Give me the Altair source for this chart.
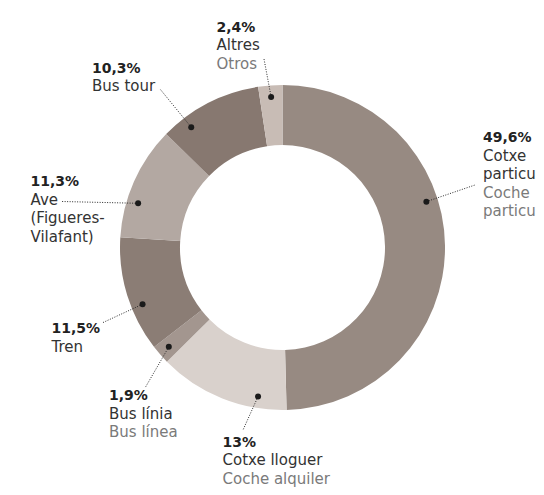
import math
import altair as alt
import pandas as pd

# ---- data ----
categories = ["Cotxe particular", "Cotxe lloguer", "Bus línia", "Tren",
              "Ave (Figueres-Vilafant)", "Bus tour", "Altres"]
shares = [49.6, 13.0, 1.9, 11.5, 11.3, 10.3, 2.4]
pct_labels = ["49,6%", "13%", "1,9%", "11,5%", "11,3%", "10,3%", "2,4%"]
ca_lines = [["Cotxe", "particular"], ["Cotxe lloguer"], ["Bus línia"], ["Tren"],
            ["Ave", "(Figueres-", "Vilafant)"], ["Bus tour"], ["Altres"]]
es_lines = [["Coche", "particular"], ["Coche alquiler"], ["Bus línea"], [], [], [], ["Otros"]]

# ---- style / layout ----
colors = ["#978a82", "#d9d1cc", "#a3968f", "#8b7d75", "#b3a8a2", "#877870", "#c8bcb5"]
W, H = 528, 479
CX, CY = 274.5, 239.5
R_OUT, R_IN, R_DOT = 162.5, 102.5, 151
LINE_H = 18.5
FONT = "DejaVu Sans"
FS = 15
FS_BOLD = 14
# position of dot inside each slice (fraction of slice angle)
dot_frac = [0.405, 0.23, 0.51, 0.38, 0.33, 0.23, 0.5]
# label anchor (page px): left x, first baseline y
label_anchor = [(483, 142), (222.5, 446.5), (109, 400), (51.5, 333),
                (30.5, 186), (92, 72.5), (216.5, 31.5)]
# leader end near the label (page px)
leader_end = [(475, 185), (243, 430), (145, 388), (102, 323),
              (62, 201.5), (160, 89), (264, 59)]

df = pd.DataFrame({"cat": categories, "share": shares, "idx": range(len(shares))})

# dots and leaders
start = 0.0
dots = []
total = sum(shares)
for i, s in enumerate(shares):
    a = 2 * math.pi * (start + dot_frac[i] * s) / total
    start += s
    px = CX + R_DOT * math.sin(a)
    py = CY - R_DOT * math.cos(a)
    ex, ey = leader_end[i]
    dots.append({"px": px, "py": py, "ex": ex - 8, "ey": ey - 8})
ddf = pd.DataFrame(dots)

rows = []
for i in range(len(shares)):
    ax, ay = label_anchor[i]
    ax -= 8
    ay -= 8
    k = 0
    rows.append({"x": ax, "y": ay, "t": pct_labels[i], "kind": "pct"})
    k += 1
    for l in ca_lines[i]:
        rows.append({"x": ax, "y": ay + k * LINE_H, "t": l, "kind": "ca"})
        k += 1
    for l in es_lines[i]:
        rows.append({"x": ax, "y": ay + k * LINE_H, "t": l, "kind": "es"})
        k += 1
tdf = pd.DataFrame(rows)

arc = alt.Chart(df).mark_arc(innerRadius=R_IN, outerRadius=R_OUT).encode(
    theta=alt.Theta("share:Q", stack=True),
    order=alt.Order("idx:Q"),
    color=alt.Color("cat:N", scale=alt.Scale(domain=categories, range=colors), legend=None),
    x=alt.value(CX),
    y=alt.value(CY),
)

leaders = alt.Chart(ddf).mark_rule(color="#2a2a2a", strokeWidth=1, strokeDash=[1, 1.5]).encode(
    x=alt.X("px:Q", scale=None, axis=None),
    y=alt.Y("py:Q", scale=None, axis=None),
    x2="ex:Q",
    y2="ey:Q",
)

pts = alt.Chart(ddf).mark_circle(color="#1a1a1a", opacity=1, size=36).encode(
    x=alt.X("px:Q", scale=None, axis=None),
    y=alt.Y("py:Q", scale=None, axis=None),
)

def text_layer(kind, color, weight, size):
    return alt.Chart(tdf).transform_filter(alt.datum.kind == kind).mark_text(
        align="left", baseline="alphabetic", font=FONT, fontSize=size,
        fontWeight=weight, color=color
    ).encode(
        x=alt.X("x:Q", scale=None, axis=None),
        y=alt.Y("y:Q", scale=None, axis=None),
        text="t:N",
    )

chart = alt.layer(
    arc, leaders, pts,
    text_layer("pct", "#222222", "bold", FS_BOLD),
    text_layer("ca", "#333333", "normal", FS),
    text_layer("es", "#7a7a7a", "normal", FS),
).properties(
    width=W, height=H, autosize=alt.AutoSizeParams(type="none"), padding=0
).configure_view(stroke=None)

chart.save("out.html", embed_options={"renderer": "svg", "actions": False})
